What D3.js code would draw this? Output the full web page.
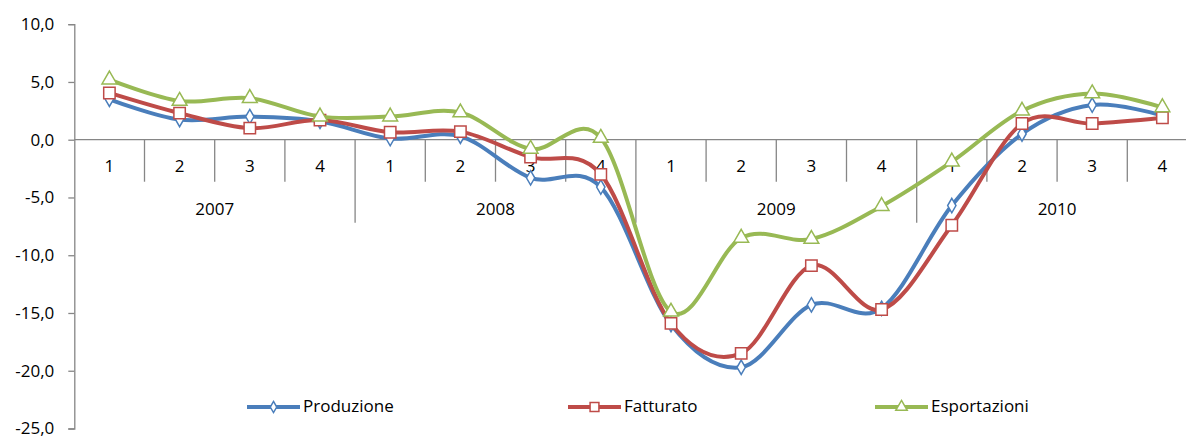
<!DOCTYPE html>
<html>
<head>
<meta charset="utf-8">
<script src="https://cdn.jsdelivr.net/npm/d3@7"></script>
<style>
  html, body { margin: 0; padding: 0; background: #fff; }
  svg { display: block; font-family: "Open Sans", Lato, "Liberation Sans", sans-serif; }
</style>
</head>
<body>
<svg id="chart" width="1186" height="436"></svg>
<script>
// Quarterly changes (%) 2007–2010
const years = ["2007", "2008", "2009", "2010"];
const quarters = ["1", "2", "3", "4"];
const seriesNames = ["Produzione", "Fatturato", "Esportazioni"];

const produzione = [3.5, 1.75, 2.0, 1.6, 0.1, 0.3, -3.3, -4.1, -16.0, -19.7, -14.3, -14.6, -5.7, 0.5, 3.0, 2.1];
const fatturato = [4.05, 2.3, 1.0, 1.7, 0.65, 0.7, -1.5, -3.0, -15.9, -18.5, -10.9, -14.7, -7.4, 1.4, 1.4, 1.9];
const esportazioni = [5.2, 3.35, 3.6, 2.0, 2.0, 2.35, -0.8, 0.15, -14.9, -8.5, -8.6, -5.75, -1.9, 2.5, 4.0, 2.8];

const yTicks = [-25, -20, -15, -10, -5, 0, 5, 10];

const colors = ["#4A7EBB", "#BE4B48", "#98B954"];
const symbols = [d3.symbolDiamond, d3.symbolSquare, d3.symbolTriangle];
const values = [produzione, fatturato, esportazioni];

const svg = d3.select("#chart");
const W = 1186;
const axisColor = "#868686";
const fontSize = "17px";

const itLocale = d3.formatLocale({ decimal: ",", thousands: ".", grouping: [3], currency: ["", " €"], minus: "-" });
const fmt = itLocale.format(".1f");

const nCats = years.length * quarters.length;
const x0 = 74.3, step = 70.2;
// category boundaries scale (0..16 slots)
const xb = d3.scaleLinear().domain([0, nCats]).range([x0, x0 + nCats * step]);
const y = d3.scaleLinear().domain([-25, 10]).range([428.5, 24.2]);

// Y axis
const yAxis = d3.axisLeft(y).tickValues(yTicks).tickSize(6).tickPadding(14).tickFormat(fmt);
const gy = svg.append("g").attr("transform", `translate(${x0},0)`).call(yAxis);
gy.select(".domain").attr("stroke", axisColor).attr("stroke-width", 1.3);
gy.selectAll(".tick line").attr("stroke", axisColor).attr("stroke-width", 1.3);
gy.selectAll(".tick text").attr("fill", "#000").style("font-size", fontSize)
  .style("font-family", "'Open Sans', Lato, sans-serif");

// X axis line at zero
const y0 = y(0);
svg.append("line")
  .attr("x1", x0).attr("x2", W).attr("y1", y0).attr("y2", y0)
  .attr("stroke", axisColor).attr("stroke-width", 1.3);

// Quarter and year dividers
const bounds = d3.range(1, nCats + 1);
svg.append("g").selectAll("line").data(bounds).join("line")
  .attr("x1", d => xb(d)).attr("x2", d => xb(d))
  .attr("y1", y0)
  .attr("y2", d => d % quarters.length === 0 ? y0 + 83 : y0 + 42)
  .attr("stroke", axisColor).attr("stroke-width", 1.3);

// Quarter labels
const cats = d3.range(nCats);
svg.append("g").selectAll("text").data(cats).join("text")
  .attr("x", d => xb(d + 0.5)).attr("y", y0 + 28)
  .attr("text-anchor", "middle").attr("dominant-baseline", "middle")
  .style("font-size", fontSize).attr("fill", "#000")
  .text(d => quarters[d % quarters.length]);

// Year labels
svg.append("g").selectAll("text").data(years).join("text")
  .attr("x", (d, i) => xb(i * quarters.length + quarters.length / 2)).attr("y", y0 + 71)
  .attr("text-anchor", "middle").attr("dominant-baseline", "middle")
  .style("font-size", fontSize).attr("fill", "#000")
  .text(d => d);

// Series: smoothed lines with open markers
const line = d3.line()
  .x((d, i) => xb(i + 0.5))
  .y(d => y(d))
  .curve(d3.curveCatmullRom.alpha(0));

const markerSize = [60, 130, 95];

values.forEach((vals, s) => {
  const g = svg.append("g");
  g.append("path").datum(vals)
    .attr("d", line)
    .attr("fill", "none").attr("stroke", colors[s]).attr("stroke-width", 4)
    .attr("stroke-linejoin", "round").attr("stroke-linecap", "round");
  g.selectAll("path.m").data(vals).join("path").attr("class", "m")
    .attr("transform", (d, i) => `translate(${xb(i + 0.5)},${y(d)})`)
    .attr("d", d3.symbol().type(symbols[s]).size(markerSize[s]))
    .attr("fill", "#fff").attr("stroke", colors[s]).attr("stroke-width", 1.5);
});

// Legend
const legendX = [247, 568, 875];
const legendY = 407;
seriesNames.forEach((name, s) => {
  const g = svg.append("g").attr("transform", `translate(${legendX[s]},${legendY})`);
  g.append("line").attr("x1", 0).attr("x2", 53).attr("y1", 0).attr("y2", 0)
    .attr("stroke", colors[s]).attr("stroke-width", 4);
  g.append("path").attr("transform", "translate(26.5,0)")
    .attr("d", d3.symbol().type(symbols[s]).size(markerSize[s] * 0.6))
    .attr("fill", "#fff").attr("stroke", colors[s]).attr("stroke-width", 1.5);
  g.append("text").attr("x", 56).attr("y", 0)
    .attr("dominant-baseline", "middle")
    .style("font-size", fontSize).attr("fill", "#000")
    .text(name);
});
</script>
</body>
</html>
